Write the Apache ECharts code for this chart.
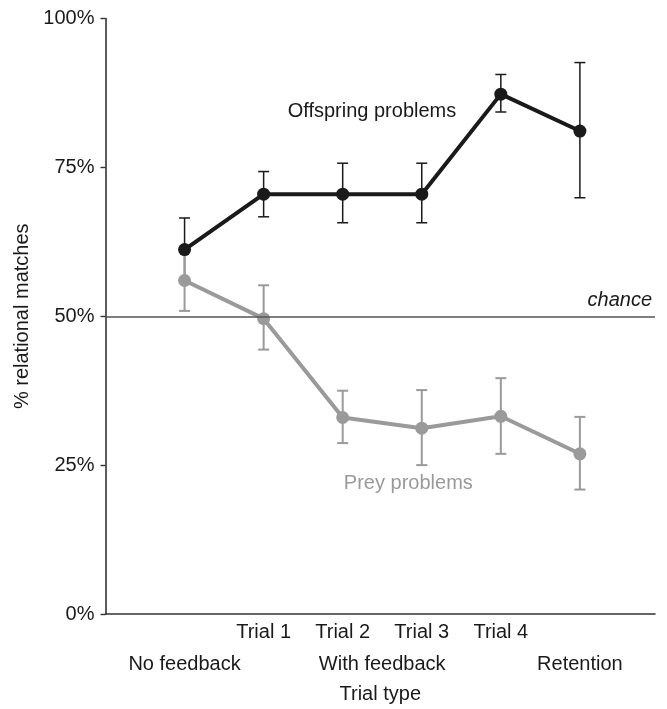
<!DOCTYPE html>
<html>
<head>
<meta charset="utf-8">
<script src="https://cdn.jsdelivr.net/npm/echarts@6/dist/echarts.min.js"></script>
<style>
  html, body { margin: 0; padding: 0; background: #fff; }
  #chart { width: 667px; height: 709px; }
</style>
</head>
<body>
<div id="chart"></div>
<script>
// ---- data ----
const groups = ['No feedback', 'Trial 1', 'Trial 2', 'Trial 3', 'Trial 4', 'Retention'];
const xPos = [1, 2, 3, 4, 5, 6];
const trialTicks = ['Trial 1', 'Trial 2', 'Trial 3', 'Trial 4'];
const trialTickPos = [2, 3, 4, 5];
const phaseLabels = ['No feedback', 'With feedback', 'Retention'];
const phasePos = [1, 3.5, 6];
const yTicks = [0, 25, 50, 75, 100];

const offspringMean = [61.2, 70.5, 70.5, 70.5, 87.3, 81.1];
const offspringLow  = [55.9, 66.7, 65.7, 65.7, 84.3, 69.9];
const offspringHigh = [66.5, 74.3, 75.7, 75.7, 90.6, 92.6];

const preyMean = [56.0, 49.6, 33.0, 31.2, 33.2, 26.9];
const preyLow  = [50.9, 44.4, 28.7, 25.0, 26.9, 20.9];
const preyHigh = [61.1, 55.2, 37.5, 37.6, 39.6, 33.1];

const chanceLevel = 50;

// ---- chart ----
const FONT = "'Liberation Sans', Arial, Helvetica, sans-serif";
const chart = echarts.init(document.getElementById('chart'), null, { renderer: 'canvas' });

function errSeries(name, low, high, color, width, z) {
  return {
    name: name,
    type: 'custom',
    z: z,
    silent: true,
    data: xPos.map((x, i) => [x, low[i], high[i]]),
    renderItem: function (params, api) {
      const x = api.value(0);
      const lo = api.coord([x, api.value(1)]);
      const hi = api.coord([x, api.value(2)]);
      const cap = 5.5;
      const style = { stroke: color, lineWidth: width, fill: null };
      return {
        type: 'group',
        children: [
          { type: 'line', shape: { x1: lo[0], y1: lo[1], x2: hi[0], y2: hi[1] }, style: style },
          { type: 'line', shape: { x1: lo[0] - cap, y1: lo[1], x2: lo[0] + cap, y2: lo[1] }, style: style },
          { type: 'line', shape: { x1: hi[0] - cap, y1: hi[1], x2: hi[0] + cap, y2: hi[1] }, style: style }
        ]
      };
    }
  };
}

const option = {
  animation: false,
  backgroundColor: '#ffffff',
  textStyle: { fontFamily: FONT },
  grid: { left: 105.5, top: 18.5, width: 549.5, height: 598.2, containLabel: false },
  xAxis: [
    {
      type: 'value', min: 0, max: 6.95,
      axisLine: { show: true, lineStyle: { color: '#333', width: 1.6 } },
      axisTick: { show: false },
      splitLine: { show: false },
      axisLabel: {
        customValues: trialTickPos,
        formatter: v => trialTicks[trialTickPos.indexOf(v)] || '',
        color: '#1a1a1a', fontSize: 20, fontFamily: FONT, margin: 8
      },
      name: 'Trial type', nameLocation: 'middle', nameGap: 70,
      nameTextStyle: { color: '#1a1a1a', fontSize: 20, fontFamily: FONT }
    },
    {
      type: 'value', min: 0, max: 6.95, position: 'bottom',
      axisLine: { show: false }, axisTick: { show: false }, splitLine: { show: false },
      axisLabel: {
        customValues: phasePos,
        formatter: v => phaseLabels[phasePos.indexOf(v)] || '',
        color: '#1a1a1a', fontSize: 20, fontFamily: FONT, margin: 40
      }
    }
  ],
  yAxis: {
    type: 'value', min: 0, max: 100, interval: 25,
    axisLine: { show: true, lineStyle: { color: '#333', width: 1.6 } },
    axisTick: { show: true, length: 5, lineStyle: { color: '#333', width: 1.4 } },
    splitLine: { show: false },
    axisLabel: {
      formatter: v => yTicks.includes(v) ? v + '%' : '',
      color: '#1a1a1a', fontSize: 20, fontFamily: FONT, margin: 11
    },
    name: '% relational matches', nameLocation: 'middle', nameGap: 71, nameRotate: 90,
    nameTextStyle: { color: '#1a1a1a', fontSize: 20, fontFamily: FONT }
  },
  series: [
    errSeries('Offspring error', offspringLow, offspringHigh, '#1a1a1a', 1.5, 2),
    errSeries('Prey error', preyLow, preyHigh, '#9a9a9a', 2, 3),
    {
      name: 'Prey problems', type: 'line', z: 4,
      data: xPos.map((x, i) => [x, preyMean[i]]),
      lineStyle: { color: '#9a9a9a', width: 4 },
      itemStyle: { color: '#9a9a9a' },
      symbol: 'circle', symbolSize: 13, showSymbol: true,
      markLine: {
        silent: true, symbol: 'none',
        lineStyle: { color: '#555', width: 1.6, type: 'solid' },
        label: {
          show: true, position: 'insideEndTop', formatter: 'chance',
          fontStyle: 'italic', fontSize: 20, color: '#1a1a1a', fontFamily: FONT, distance: [3, 6]
        },
        data: [{ yAxis: chanceLevel }]
      },
      markPoint: {
        symbol: 'circle', symbolSize: 0,
        label: { show: true, formatter: 'Prey problems', color: '#9a9a9a', fontSize: 20, fontFamily: FONT, position: 'inside' },
        data: [{ coord: [3.83, 22.0] }]
      }
    },
    {
      name: 'Offspring problems', type: 'line', z: 5,
      data: xPos.map((x, i) => [x, offspringMean[i]]),
      lineStyle: { color: '#1a1a1a', width: 4 },
      itemStyle: { color: '#1a1a1a' },
      symbol: 'circle', symbolSize: 13, showSymbol: true,
      markPoint: {
        symbol: 'circle', symbolSize: 0,
        label: { show: true, formatter: 'Offspring problems', color: '#1a1a1a', fontSize: 20, fontFamily: FONT, position: 'inside' },
        data: [{ coord: [3.37, 84.4] }]
      }
    }
  ]
};
chart.setOption(option);
</script>
</body>
</html>
